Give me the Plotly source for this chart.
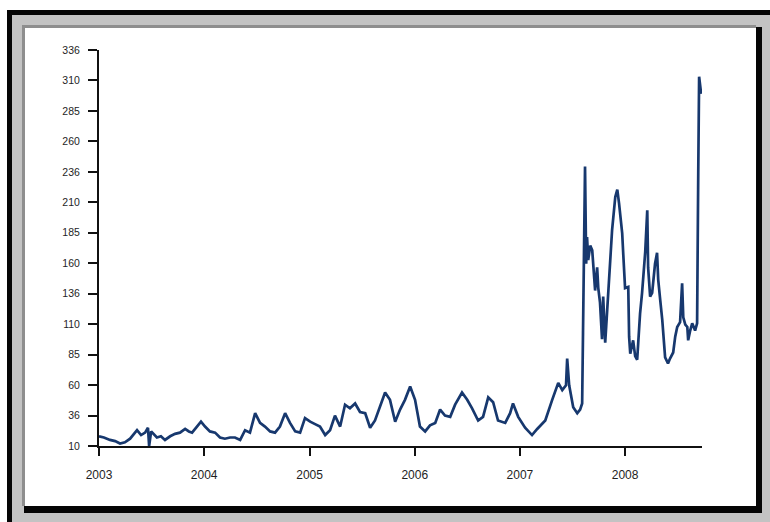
import numpy as np
import plotly.graph_objects as go

# ---- data ----
dates = [
    "2003-01-01", "2003-01-18", "2003-02-08", "2003-02-26", "2003-03-15", "2003-04-01", "2003-04-19",
    "2003-05-13", "2003-05-27", "2003-06-10", "2003-06-20", "2003-06-24", "2003-07-01", "2003-07-21",
    "2003-08-04", "2003-08-18", "2003-09-05", "2003-09-22", "2003-10-09", "2003-10-27", "2003-11-09",
    "2003-11-20", "2003-12-07", "2003-12-21",
    "2004-01-04", "2004-01-21", "2004-02-08", "2004-02-25", "2004-03-13", "2004-03-31", "2004-04-17",
    "2004-05-05", "2004-05-22", "2004-06-08", "2004-06-26", "2004-07-13", "2004-07-30", "2004-08-17",
    "2004-09-03", "2004-09-20", "2004-10-08", "2004-10-25", "2004-11-12", "2004-11-29", "2004-12-16",
    "2005-01-03", "2005-01-20", "2005-02-06", "2005-02-24", "2005-03-13", "2005-03-30", "2005-04-17",
    "2005-05-04", "2005-05-21", "2005-06-08", "2005-06-25", "2005-07-13", "2005-07-30", "2005-08-16",
    "2005-09-03", "2005-09-20", "2005-10-07", "2005-10-25", "2005-11-11", "2005-11-28", "2005-12-16",
    "2006-01-02", "2006-01-19", "2006-02-06", "2006-02-23", "2006-03-13", "2006-03-30", "2006-04-16",
    "2006-05-04", "2006-05-21", "2006-06-14", "2006-07-02", "2006-07-19", "2006-08-09", "2006-08-26",
    "2006-09-13", "2006-09-30", "2006-10-17", "2006-11-11", "2006-11-28", "2006-12-08", "2006-12-26",
    "2007-01-19", "2007-02-12", "2007-03-02", "2007-03-30", "2007-04-23", "2007-05-14", "2007-05-28",
    "2007-06-10", "2007-06-14", "2007-06-21", "2007-07-05", "2007-07-19", "2007-07-29", "2007-08-05",
    "2007-08-08", "2007-08-15", "2007-08-19", "2007-08-22", "2007-08-26", "2007-09-02", "2007-09-09",
    "2007-09-16", "2007-09-19", "2007-09-26", "2007-09-30", "2007-10-06", "2007-10-13", "2007-10-17",
    "2007-10-24", "2007-10-31", "2007-11-10", "2007-11-17", "2007-11-28", "2007-12-05", "2007-12-11",
    "2007-12-15", "2007-12-22", "2007-12-25",
    "2008-01-01", "2008-01-12", "2008-01-15", "2008-01-19", "2008-01-29", "2008-02-05", "2008-02-12",
    "2008-02-22", "2008-02-29", "2008-03-11", "2008-03-18", "2008-03-21", "2008-03-28", "2008-04-04",
    "2008-04-14", "2008-04-21", "2008-04-25", "2008-05-02", "2008-05-09", "2008-05-19", "2008-05-29",
    "2008-06-05", "2008-06-16", "2008-06-23", "2008-06-30", "2008-07-10", "2008-07-17", "2008-07-21",
    "2008-07-28", "2008-08-04", "2008-08-07", "2008-08-14", "2008-08-21", "2008-08-31", "2008-09-07",
    "2008-09-11", "2008-09-14", "2008-09-21",
]
spread = [
    18, 17, 15, 14, 12, 13, 16,
    23, 19, 21, 25, 10, 22, 17,
    18, 15, 18, 20, 21, 24, 22,
    21, 26, 30,
    26, 22, 21, 17, 16, 17, 17,
    15, 23, 21, 37, 29, 26, 22,
    21, 26, 37, 29, 22, 21, 33,
    30, 28, 26, 19, 23, 35, 26,
    44, 41, 45, 38, 37, 25, 31,
    42, 54, 48, 30, 40, 48, 59,
    48, 26, 22, 27, 29, 40, 35,
    34, 44, 54, 48, 41, 31, 34,
    50, 46, 31, 29, 37, 45, 34,
    25, 19, 24, 31, 48, 62, 56,
    60, 82, 60, 42, 37, 40, 45,
    103, 240, 160, 182, 163, 175, 171,
    150, 138, 157, 140, 128, 98, 133,
    95, 122, 161, 188, 215, 221, 210,
    202, 185, 171,
    140, 141, 100, 86, 97, 84, 81,
    119, 136, 170, 204, 157, 133, 136,
    160, 169, 147, 130, 114, 83, 78,
    82, 87, 100, 108, 112, 144, 116,
    110, 108, 97, 105, 111, 105, 111,
    235, 314, 300,
]
y_tick_labels = ["10", "36", "60", "85", "110", "136", "160", "185",
                 "210", "236", "260", "285", "310", "336"]
x_tick_labels = ["2003", "2004", "2005", "2006", "2007", "2008"]
x_tick_dates = ["2003-01-01", "2004-01-01", "2005-01-01", "2006-01-01",
                "2007-01-01", "2008-01-01"]

# ---- layout geometry (pixels) ----
W, H = 770, 522
L, R, T, B = 99, 68, 50, 76
pw, ph = W - L - R, H - T - B


def px_x(p):
    return (p - L) / pw


def px_y(p):
    return (H - B - p) / ph


def rect(x0, y0, x1, y1, color):
    return dict(type="rect", xref="paper", yref="paper",
                x0=px_x(x0), x1=px_x(x1), y0=px_y(y1), y1=px_y(y0),
                fillcolor=color, line=dict(width=0), layer="below")


shapes = [
    rect(7, 10, 770, 522, "#c3c3c3"),
    rect(7, 10, 770, 15, "#050505"),
    rect(7, 10, 12, 522, "#050505"),
    rect(24, 27, 762, 513, "#050505"),
    rect(22, 25, 756, 506, "#8e8e8e"),
    rect(25, 28, 756, 506, "#ffffff"),
]

fig = go.Figure()
fig.add_trace(go.Scatter(
    x=dates, y=spread, mode="lines",
    line=dict(color="#17386e", width=2.7),
    showlegend=False, hoverinfo="x+y",
))

fig.update_layout(
    width=W, height=H,
    margin=dict(l=L, r=R, t=T, b=B, pad=0),
    paper_bgcolor="#ffffff",
    plot_bgcolor="rgba(0,0,0,0)",
    shapes=shapes,
    showlegend=False,
    font=dict(family="Liberation Sans, Arial, sans-serif", color="#1e1e1e"),
)
fig.update_xaxes(
    type="date",
    range=["2003-01-01", "2008-09-24"],
    tickmode="array", tickvals=x_tick_dates, ticktext=x_tick_labels,
    ticks="outside", ticklen=8, tickwidth=2, tickcolor="#111111",
    showline=True, linecolor="#111111", linewidth=2,
    showgrid=False, zeroline=False,
    tickfont=dict(size=12),
    ticklabelstandoff=9,
)
fig.update_yaxes(
    range=[10, 336],
    tickmode="array",
    tickvals=list(np.linspace(10, 336, len(y_tick_labels))),
    ticktext=y_tick_labels,
    ticks="outside", ticklen=9, tickwidth=2, tickcolor="#111111",
    showline=True, linecolor="#111111", linewidth=2,
    showgrid=False, zeroline=False,
    tickfont=dict(size=10.5),
    ticklabelstandoff=6,
)

fig.write_html("out.html",
               config={"displayModeBar": False},
               post_script="document.body.style.margin='0px';"
                           "document.body.style.overflow='hidden';")
